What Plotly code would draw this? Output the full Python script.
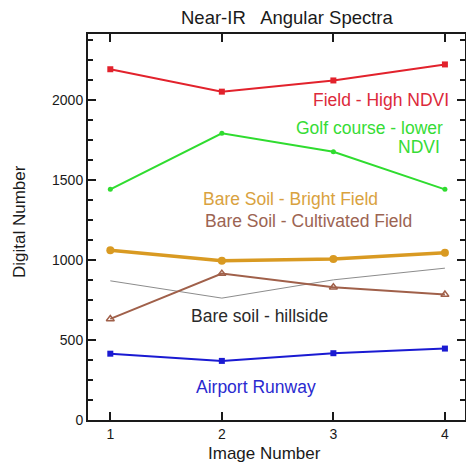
import plotly.graph_objects as go

image_number = [1, 2, 3, 4]
field_high_ndvi = [2190, 2050, 2120, 2220]
golf_course = [1440, 1790, 1675, 1440]
bare_bright = [1060, 995, 1005, 1045]
bare_cultivated = [631, 914, 829, 783]
bare_hillside = [869, 761, 875, 948]
airport_runway = [414, 369, 417, 446]

y_ticks = [0, 500, 1000, 1500, 2000]

FONT = "Arial, Liberation Sans, sans-serif"

fig = go.Figure()

fig.add_trace(go.Scatter(x=image_number, y=bare_hillside, mode="lines",
                         line=dict(color="#8c8c8c", width=1), showlegend=False))
fig.add_trace(go.Scatter(x=image_number, y=field_high_ndvi, mode="lines+markers",
                         line=dict(color="#e2222c", width=2),
                         marker=dict(symbol="square", size=6, color="#e2222c"), showlegend=False))
fig.add_trace(go.Scatter(x=image_number, y=golf_course, mode="lines+markers",
                         line=dict(color="#2fdc2f", width=2),
                         marker=dict(symbol="circle", size=5, color="#2fdc2f"), showlegend=False))
fig.add_trace(go.Scatter(x=image_number, y=bare_bright, mode="lines+markers",
                         line=dict(color="#d99a22", width=3.5),
                         marker=dict(symbol="circle", size=8, color="#d99a22"), showlegend=False))
fig.add_trace(go.Scatter(x=image_number, y=bare_cultivated, mode="lines+markers",
                         line=dict(color="#a0604a", width=2),
                         marker=dict(symbol="triangle-up-open", size=7, color="#a0604a",
                                     line=dict(width=1.5)), showlegend=False))
fig.add_trace(go.Scatter(x=image_number, y=airport_runway, mode="lines+markers",
                         line=dict(color="#1a1ad2", width=2),
                         marker=dict(symbol="square", size=6, color="#1a1ad2"), showlegend=False))

W, H = 466, 464
L, R, T, B = 88, 1, 34, 44
pw, ph = W - L - R, H - T - B

def px(xp):
    return (xp - L) / pw

def py(yp):
    return (H - B - yp) / ph

def label(text, x, y, color, xanchor="center", size=17.5, angle=0):
    fig.add_annotation(text=text, x=px(x), y=py(y), xref="paper", yref="paper",
                       xanchor=xanchor, yanchor="middle", showarrow=False, textangle=angle,
                       font=dict(family=FONT, size=size, color=color))

label("Field - High NDVI", 451, 100, "#dc2a3a", "right")
label("Golf course - lower", 445, 128, "#36dc36", "right")
label("NDVI", 442, 147, "#36dc36", "right")
label("Bare Soil - Bright Field", 290, 199, "#d9a23e")
label("Bare Soil - Cultivated Field", 308, 221, "#9c6452")
label("Bare soil - hillside", 259, 316, "#2a2a2a")
label("Airport Runway", 256, 387, "#2a2ad0")

# title and axis titles
label("Near-IR   Angular Spectra", 287, 17, "#1a1a1a", size=18.5)
label("Image Number", 264, 453, "#1a1a1a", size=17)
label("Digital Number", 20, 222, "#1a1a1a", size=17, angle=-90)

fig.update_layout(
    width=W, height=H,
    margin=dict(l=L, r=R, t=T, b=B, autoexpand=False),
    paper_bgcolor="white", plot_bgcolor="white",
    font=dict(family=FONT, size=14, color="#1a1a1a"),
    xaxis=dict(range=[0.8, 4.18], tickvals=image_number, ticktext=[str(v) for v in image_number],
               showgrid=False, zeroline=False, showline=True, linecolor="#1a1a1a", linewidth=2,
               mirror="ticks", ticks="inside", ticklen=8, tickwidth=2, tickcolor="#1a1a1a",
               tickfont=dict(size=14, family=FONT), automargin=False),
    yaxis=dict(range=[0, 2410], tickvals=y_ticks, ticktext=[str(v) for v in y_ticks],
               showgrid=False, zeroline=False, showline=True, linecolor="#1a1a1a", linewidth=2,
               mirror="ticks", ticks="inside", ticklen=8, tickwidth=2, tickcolor="#1a1a1a",
               tickfont=dict(size=14, family=FONT), automargin=False,
               minor=dict(dtick=125, tick0=0, ticks="inside", ticklen=5, tickwidth=1.5,
                          tickcolor="#1a1a1a", showgrid=False)),
)

fig.write_html("out.html", config={"displayModeBar": False},
               post_script="document.body.style.margin='0';document.body.style.overflow='hidden';")
